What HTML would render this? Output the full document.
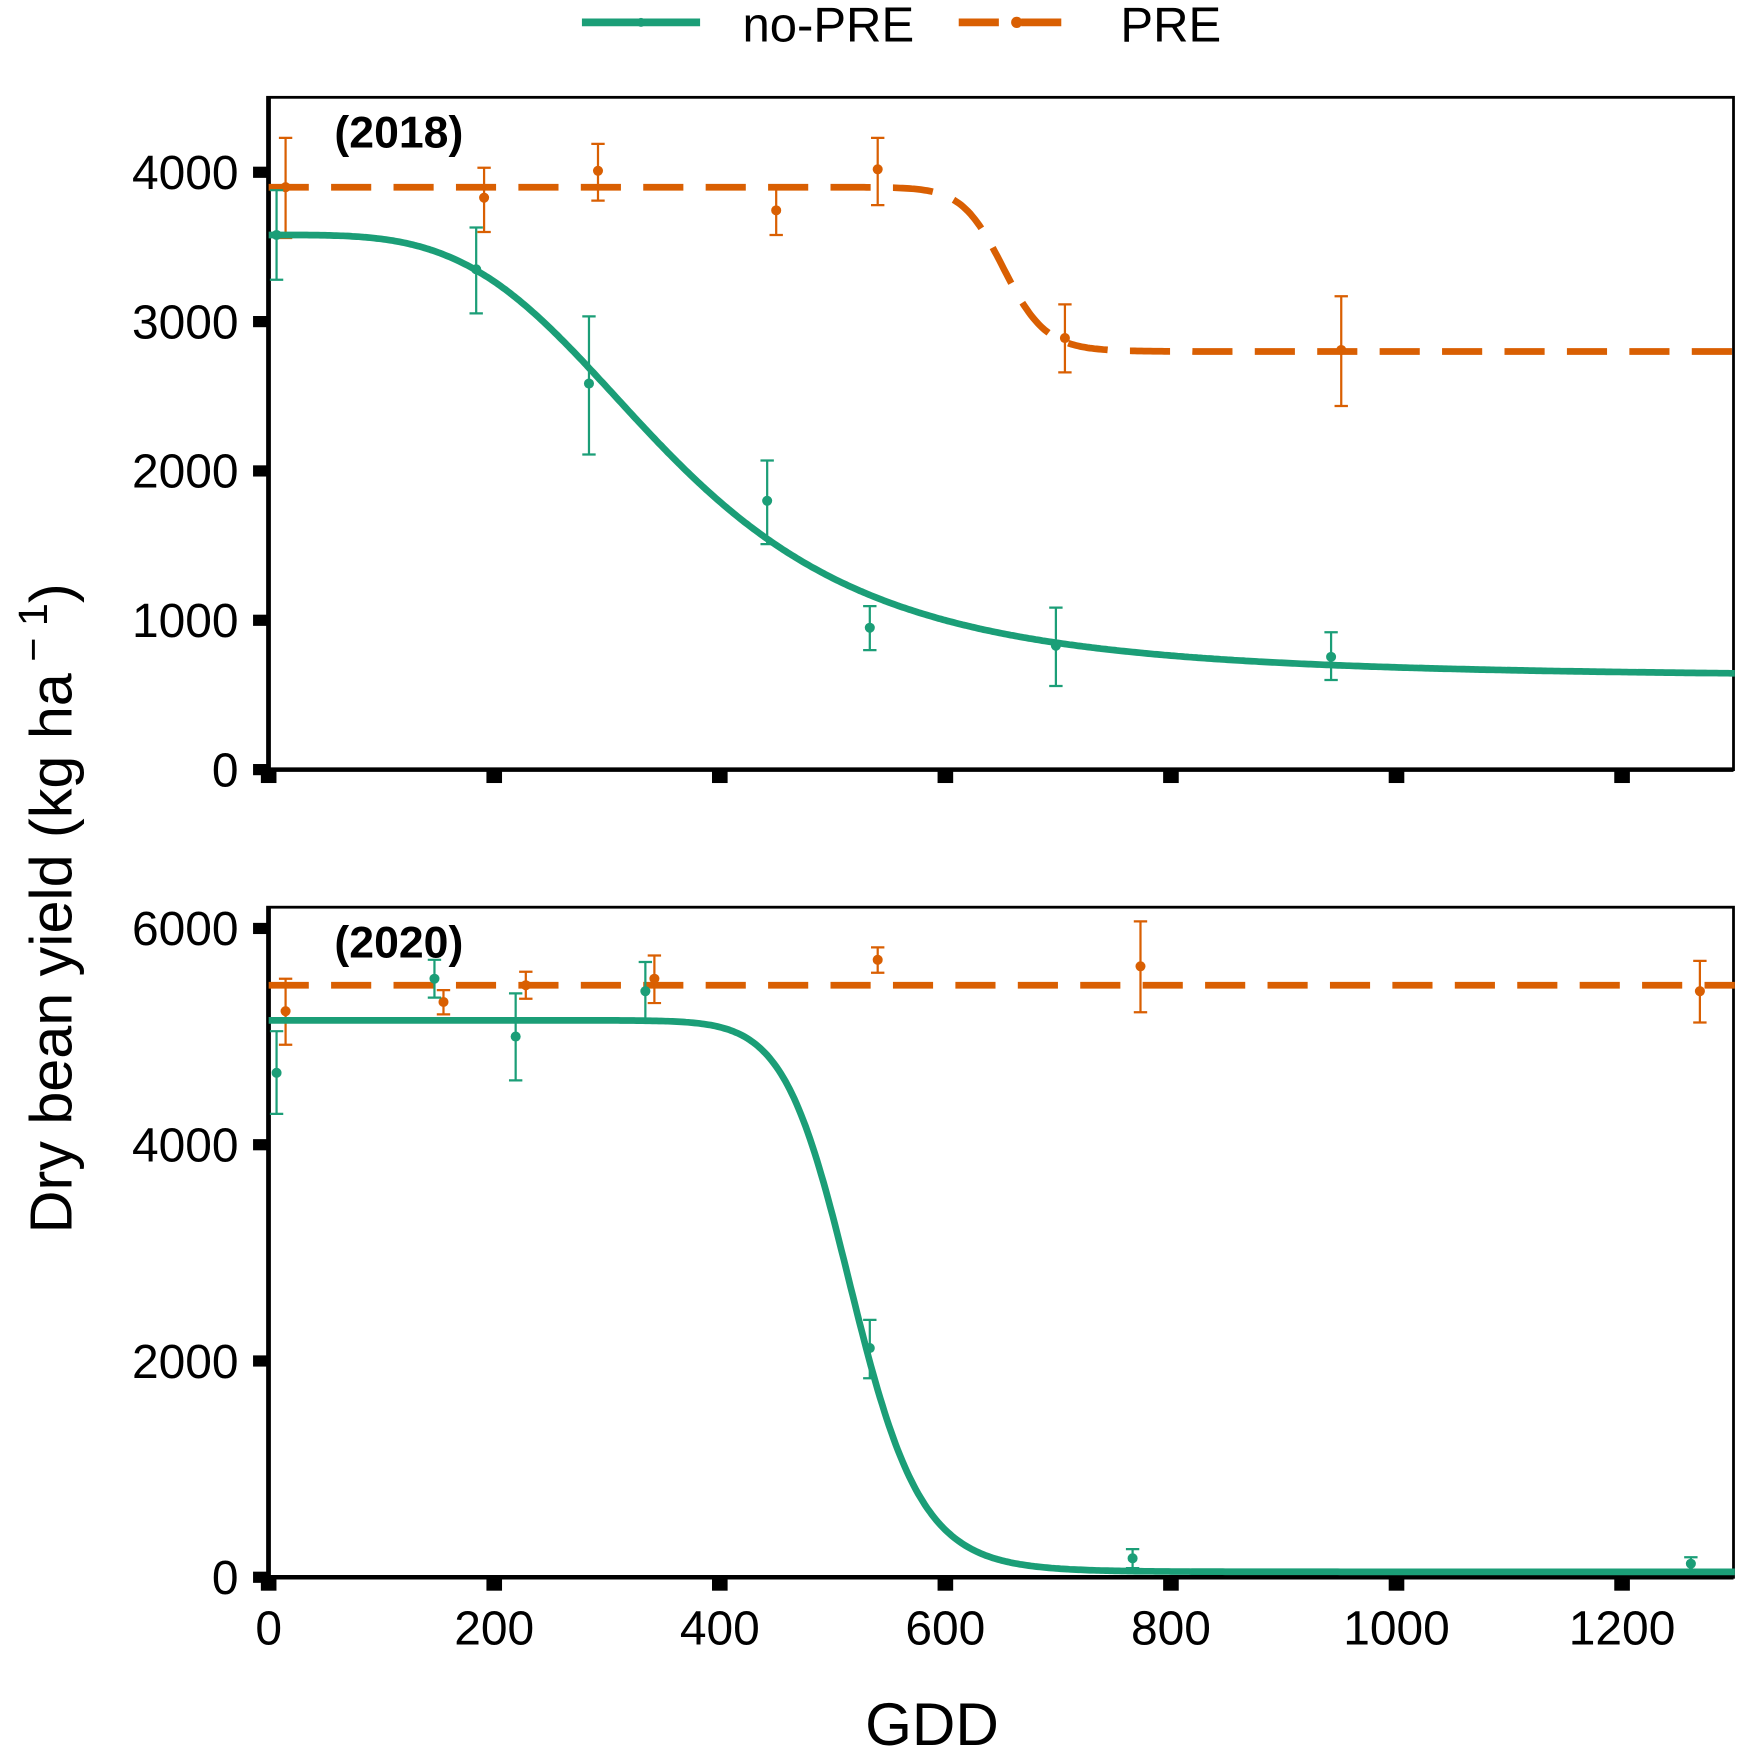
<!DOCTYPE html>
<html><head><meta charset="utf-8"><style>
html,body{margin:0;padding:0;background:#fff;}
svg{display:block;font-family:"Liberation Sans",Arial,sans-serif;}
</style></head><body>
<svg id="chart" width="1748" height="1754" viewBox="0 0 1568 1568" preserveAspectRatio="none" xmlns="http://www.w3.org/2000/svg">
<g>
 <line x1="522" y1="20" x2="628" y2="20" stroke="#1b9e77" stroke-width="7"/>
 <circle cx="575" cy="20" r="4" fill="#1b9e77"/>
 <text x="666" y="37" font-size="44">no-PRE</text>
 <line x1="860" y1="20" x2="965" y2="20" stroke="#d95f02" stroke-width="7" stroke-dasharray="36,20"/>
 <circle cx="912" cy="20" r="5" fill="#d95f02"/>
 <text x="1005" y="37" font-size="44">PRE</text>
</g>
<text transform="translate(64,812) rotate(-90)" text-anchor="middle" font-size="53">Dry bean yield (kg ha<tspan dy="-22" font-size="37"> − 1</tspan><tspan dy="22">)</tspan></text>
<text x="836" y="1560" text-anchor="middle" font-size="54">GDD</text>
<g id="plots"></g>
</svg>
<script>
// ---- data ----
const xTicks = [0,200,400,600,800,1000,1200];
const yTicks2018 = [0,1000,2000,3000,4000];
const yTicks2020 = [0,2000,4000,6000];

const gdd2018NoPre = [7,184,284,442,533,698,942];
const yld2018NoPre = [3580,3350,2585,1800,950,830,755];
const lo2018NoPre  = [3280,3055,2110,1510,800,560,600];
const hi2018NoPre  = [3880,3630,3035,2070,1095,1085,920];
const gdd2018Pre = [15,191,292,450,540,706,951];
const yld2018Pre = [3900,3830,4010,3745,4020,2890,2810];
const lo2018Pre  = [3560,3600,3810,3580,3780,2660,2435];
const hi2018Pre  = [4230,4030,4190,3900,4230,3115,3170];

const gdd2020NoPre = [7,147,219,334,533,766,1261];
const yld2020NoPre = [4665,5535,5000,5420,2120,175,125];
const lo2020NoPre  = [4285,5360,4595,5150,1840,85,60];
const hi2020NoPre  = [5050,5710,5400,5690,2380,260,185];
const gdd2020Pre = [15,155,228,342,540,773,1269];
const yld2020Pre = [5235,5320,5475,5535,5710,5650,5420];
const lo2020Pre  = [4925,5205,5350,5310,5590,5225,5130];
const hi2020Pre  = [5535,5430,5600,5750,5825,6065,5700];

// fitted log-logistic curve parameters [b, lower c, upper d, e]
const fit2018NoPre = [3.69, 620, 3580, 357];
const fit2018Pre   = [35, 2800, 3900, 652];
const fit2020NoPre = [17, 50, 5150, 518];
const fit2020Pre   = [1, 5475, 5475, 500];

const GREEN="#1b9e77", ORANGE="#d95f02";
const NS="http://www.w3.org/2000/svg";
const plots=document.getElementById('plots');
function mk(tag,attrs,parent){const e=document.createElementNS(NS,tag);for(const k in attrs)e.setAttribute(k,attrs[k]);parent.appendChild(e);return e;}

const X0=241, XPX=1.0117, XL=240, XR=1555;
function xs(v){return X0+v*XPX;}
function ll(p,x){if(x<=0)return p[2];return p[1]+(p[2]-p[1])/(1+Math.exp(p[0]*(Math.log(x)-Math.log(p[3]))));}

function drawPanel(cfg){
  const {name,boxTop,bottom,yTop,yTopVal,yTicks,label,series}=cfg;
  const g=mk('g',{},plots);
  
  
  const ys=v=>bottom-(v/yTopVal)*(bottom-yTop);
  const fr=mk('rect',{x:XL,y:boxTop,width:XR-XL,height:bottom-boxTop,fill:'none',stroke:'#000','stroke-width':2.5},g);
  
  
  mk('line',{x1:XL,y1:bottom,x2:XR,y2:bottom,stroke:'#000','stroke-width':4},g);
  mk('line',{x1:XL+1,y1:boxTop,x2:XL+1,y2:bottom,stroke:'#000','stroke-width':4},g);
  yTicks.forEach(v=>{
    const t=mk('rect',{x:227,y:ys(v)-5,width:14,height:10,fill:'#000'},g);
    
    
    const l=mk('text',{x:214,y:ys(v)+15,'text-anchor':'end','font-size':43},g);
    
    
    l.textContent=v;
  });
  xTicks.forEach(v=>{
    const t=mk('rect',{x:xs(v)-7,y:bottom,width:14,height:12,fill:'#000'},g);
    
    
    if(cfg.xLabels){
      const l=mk('text',{x:xs(v),y:bottom+60,'text-anchor':'middle','font-size':43},g);
      
      
      l.textContent=v;
    }
  });
  const pl=mk('text',{x:300,y:boxTop+45,'font-size':40,'font-weight':'bold'},g);
  
  
  pl.textContent=label;
  series.forEach(s=>{
    let d='';
    for(let x=0;x<=1300;x+=2){const px=xs(x),py=ys(ll(s.fit,x));d+=(x?'L':'M')+px.toFixed(1)+','+py.toFixed(1);}
    const attrs={d:d,fill:'none',stroke:s.color,'stroke-width':6};
    if(s.dash)attrs['stroke-dasharray']='36,20';
    const p=mk('path',attrs,g);
    
    
    s.x.forEach((xv,i)=>{
      const px=xs(xv);
      const eb=mk('path',{d:`M${px-6},${ys(s.hi[i])}H${px+6}M${px},${ys(s.hi[i])}V${ys(s.lo[i])}M${px-6},${ys(s.lo[i])}H${px+6}`,stroke:s.color,'stroke-width':2,fill:'none'},g);
      
      
      const c=mk('circle',{cx:px,cy:ys(s.y[i]),r:4.5,fill:s.color},g);
      
      
    });
  });
}

drawPanel({name:'panel-2018',boxTop:87,bottom:688,yTop:154,yTopVal:4000,yTicks:yTicks2018,label:'(2018)',xLabels:false,series:[
  {name:'pre-2018',color:ORANGE,dash:true,fit:fit2018Pre,x:gdd2018Pre,y:yld2018Pre,lo:lo2018Pre,hi:hi2018Pre},
  {name:'no-pre-2018',color:GREEN,dash:false,fit:fit2018NoPre,x:gdd2018NoPre,y:yld2018NoPre,lo:lo2018NoPre,hi:hi2018NoPre}
]});
drawPanel({name:'panel-2020',boxTop:811,bottom:1410,yTop:830,yTopVal:6000,yTicks:yTicks2020,label:'(2020)',xLabels:true,series:[
  {name:'pre-2020',color:ORANGE,dash:true,fit:fit2020Pre,x:gdd2020Pre,y:yld2020Pre,lo:lo2020Pre,hi:hi2020Pre},
  {name:'no-pre-2020',color:GREEN,dash:false,fit:fit2020NoPre,x:gdd2020NoPre,y:yld2020NoPre,lo:lo2020NoPre,hi:hi2020NoPre}
]});
</script>
</body></html>
